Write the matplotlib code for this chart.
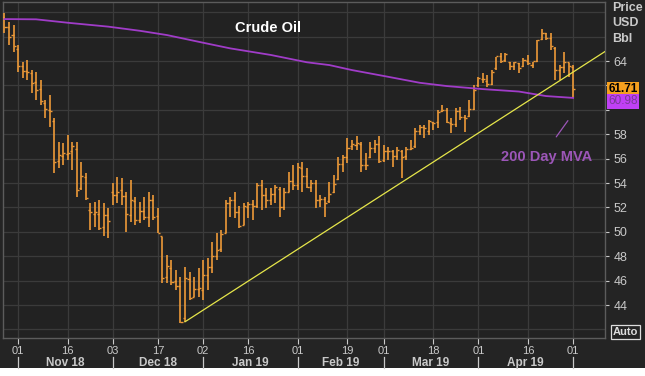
import numpy as np
import pandas as pd
import matplotlib
matplotlib.use("Agg")
import matplotlib.pyplot as plt
from matplotlib.lines import Line2D
from matplotlib.patches import Rectangle
import matplotlib.transforms as mtransforms

plt.rcParams['font.family'] = ['Liberation Sans', 'DejaVu Sans']

# ---------------- data ----------------
start_date = "2018-10-29"
end_date = "2019-05-01"
holidays = ["2018-11-22", "2018-12-25", "2019-01-01", "2019-01-21",
            "2019-02-18", "2019-04-19"]

highs = [67.96, 67.22, 66.95, 65.31, 63.95, 64.08, 63.26, 63.13, 62.44, 60.80,
         61.21, 59.30, 57.39, 57.25, 57.93, 57.39, 57.39, 55.75, 54.79, 52.33,
         52.47, 52.61, 52.33, 51.92, 53.97, 54.52, 54.38, 53.29, 54.25, 52.88,
         52.47, 52.88, 53.29, 53.02, 51.92, 49.60, 48.10, 47.69, 46.87, 46.32,
         47.14, 46.73, 46.32, 47.01, 47.69, 47.83, 49.19, 49.87, 50.15, 52.61,
         52.88, 53.29, 52.11, 52.33, 52.47, 52.61, 53.97, 54.25, 53.56, 53.56,
         53.84, 53.70, 53.56, 54.93, 55.48, 55.61, 55.75, 55.20, 54.25, 54.25,
         53.02, 52.88, 54.05, 54.66, 56.16, 56.30, 57.66, 57.52, 57.85, 57.39,
         56.43, 57.39, 57.52, 57.85, 57.11, 56.98, 56.70, 56.98, 56.70, 56.98,
         57.52, 58.48, 58.75, 58.75, 59.16, 59.03, 59.98, 60.39, 60.12, 59.30,
         60.12, 60.26, 59.57, 60.80, 62.03, 62.72, 62.99, 62.85, 63.26, 64.36,
         64.63, 64.63, 63.95, 63.95, 63.81, 64.22, 64.49, 63.95, 65.72, 66.60,
         66.32, 66.27, 65.17, 63.67, 64.77, 63.81, 63.67]
lows = [66.27, 65.31, 64.77, 63.13, 62.58, 62.44, 61.35, 60.80, 60.39, 59.30,
        58.62, 54.79, 55.20, 55.48, 55.89, 55.07, 52.88, 53.43, 52.61, 50.15,
        50.42, 50.15, 49.70, 49.50, 52.20, 52.33, 52.20, 50.01, 50.83, 50.56,
        50.69, 50.97, 50.42, 50.97, 49.87, 45.78, 45.78, 45.64, 45.23, 42.50,
        42.63, 44.41, 44.68, 44.68, 44.41, 45.23, 46.60, 47.69, 48.37, 49.90,
        51.24, 51.10, 50.28, 50.56, 51.10, 50.97, 51.92, 51.79, 51.92, 52.20,
        52.33, 51.24, 51.79, 53.29, 53.43, 53.43, 53.29, 53.56, 53.29, 51.92,
        52.06, 51.24, 52.40, 53.15, 54.25, 54.93, 55.61, 56.70, 56.70, 54.93,
        55.07, 56.02, 56.43, 55.61, 55.75, 55.89, 55.34, 55.89, 54.38, 55.89,
        56.70, 56.84, 57.93, 57.66, 57.93, 58.34, 58.48, 59.85, 58.89, 58.07,
        58.62, 59.16, 58.21, 59.44, 59.98, 61.90, 62.17, 61.90, 62.03, 63.26,
        63.81, 63.95, 63.26, 63.26, 62.99, 63.54, 63.67, 63.40, 63.95, 65.72,
        65.72, 64.90, 62.44, 62.44, 62.99, 62.72, 60.94]
opens = [67.6, 66.8, 66.1, 65.0, 63.6, 63.2, 63.0, 62.3, 61.7, 60.6,
         60.0, 59.1, 55.8, 56.2, 56.4, 56.6, 56.8, 53.6, 54.5, 51.8,
         51.5, 51.5, 50.4, 51.4, 53.3, 53.0, 53.4, 52.9, 51.4, 52.5,
         51.0, 51.7, 51.2, 52.6, 51.3, 49.7, 46.3, 47.0, 46.0, 45.6,
         42.9, 46.1, 44.7, 45.3, 45.2, 46.5, 47.1, 48.0, 48.6, 49.9,
         52.4, 52.6, 51.6, 50.6, 52.0, 52.3, 52.1, 53.8, 53.0, 52.6,
         53.1, 53.5, 52.0, 53.3, 54.2, 53.8, 55.2, 54.6, 53.7, 54.0,
         52.6, 52.7, 52.5, 53.3, 54.3, 55.6, 56.1, 57.0, 57.1, 57.2,
         55.5, 56.1, 56.9, 57.2, 55.9, 56.6, 56.6, 56.2, 56.6, 56.2,
         56.8, 57.0, 58.3, 58.6, 58.3, 59.0, 59.0, 59.9, 60.0, 58.9,
         58.8, 59.9, 59.4, 59.5, 60.1, 62.0, 62.5, 62.4, 62.1, 63.4,
         64.4, 64.1, 63.9, 63.6, 63.8, 63.6, 64.0, 63.7, 64.0, 65.8,
         66.3, 65.9, 65.1, 63.3, 63.5, 63.9, 63.5]
closes = [66.8, 66.0, 65.2, 63.6, 63.2, 63.1, 62.2, 61.6, 60.7, 60.1,
          59.9, 55.7, 56.3, 56.5, 56.5, 57.0, 53.4, 54.6, 52.8, 51.6,
          51.6, 50.3, 51.4, 50.9, 53.0, 53.3, 52.9, 51.5, 52.6, 51.0,
          51.7, 51.2, 52.6, 51.2, 49.9, 46.2, 47.2, 45.9, 45.6, 42.6,
          46.2, 44.6, 45.3, 45.4, 46.5, 47.1, 48.0, 48.5, 49.8, 52.4,
          52.6, 51.6, 50.5, 52.1, 52.3, 52.1, 53.8, 53.0, 52.6, 53.1,
          53.7, 52.0, 53.3, 54.2, 53.8, 55.3, 54.6, 53.7, 54.0, 52.6,
          52.7, 52.4, 53.1, 53.9, 55.6, 56.1, 56.9, 57.2, 57.3, 55.5,
          55.5, 56.9, 57.2, 55.8, 56.6, 56.6, 56.2, 56.7, 56.1, 56.8,
          56.9, 58.3, 58.6, 58.5, 59.1, 58.9, 59.8, 60.0, 59.0, 58.8,
          59.9, 59.4, 59.3, 60.1, 61.6, 62.6, 62.5, 62.1, 63.1, 64.4,
          64.0, 64.6, 63.6, 63.9, 63.4, 64.1, 63.8, 64.0, 65.7, 66.3,
          65.9, 65.2, 63.3, 63.5, 63.9, 63.6, 61.71]

ma_dates = ["2018-10-29", "2018-11-07", "2018-11-16", "2018-11-30", "2018-12-11",
            "2018-12-19", "2018-12-31", "2019-01-10", "2019-01-24", "2019-02-05",
            "2019-02-12", "2019-02-20", "2019-03-04", "2019-03-13", "2019-03-21",
            "2019-04-02", "2019-04-12", "2019-04-23", "2019-05-01"]
ma_values = [67.44, 67.42, 67.14, 66.82, 66.48, 66.13, 65.58, 65.04, 64.50, 63.90,
             63.67, 63.26, 62.71, 62.22, 61.95, 61.70, 61.50, 61.13, 60.98]

trend_dates = ["2018-12-26", "2019-05-01"]
trend_values = [42.63, 63.10]

tick_dates = ["2018-11-01", "2018-11-16", "2018-12-03", "2018-12-17", "2019-01-02",
              "2019-01-16", "2019-02-01", "2019-02-19", "2019-03-01", "2019-03-18",
              "2019-04-01", "2019-04-16", "2019-05-01"]
tick_labels = ["01", "16", "03", "17", "02", "16", "01", "19", "01", "18", "01", "16", "01"]
month_starts = ["2018-11-01", "2018-12-03", "2019-01-02", "2019-02-01",
                "2019-03-01", "2019-04-01", "2019-05-01"]
month_labels = ["Nov 18", "Dec 18", "Jan 19", "Feb 19", "Mar 19", "Apr 19"]
price_ticks = [44, 46, 48, 50, 52, 54, 56, 58, 60, 62, 64]
hidden_price_labels = [60, 62]   # covered by the last-value boxes
grid_levels = [42, 44, 46, 48, 50, 52, 54, 56, 58, 60, 62, 64, 66, 68]
last_price = 61.71
last_ma = 60.98

# ---------------- calendar ----------------
dates = pd.bdate_range(start_date, end_date)
dates = dates[~dates.isin(pd.to_datetime(holidays))]
pos = {d.strftime("%Y-%m-%d"): i for i, d in enumerate(dates)}
x = np.arange(len(dates))

# ---------------- style ----------------
W, H = 645, 376
BG = "#242424"
AXBG = "#222222"
GRID = "#3b3b3b"
FRAME = "#5c5c5c"
ORANGE = "#EE9A38"
PURPLE = "#A03CC8"
YELLOW = "#E6E64A"
TXT = "#c9c9c9"

fig = plt.figure(figsize=(W / 100, H / 100), dpi=100, facecolor=BG)
ax = fig.add_axes([3 / W, 1 - 338 / H, 602 / W, 336 / H], facecolor=AXBG)

ax.set_xlim(-0.33, 133.06)
ax.set_ylim(41.3, 68.84)

for g in grid_levels:
    ax.axhline(g, color=GRID, lw=0.9, zorder=0)
tick_x = [pos[d] for d in tick_dates]
for tx in tick_x:
    ax.axvline(tx, color=GRID, lw=0.9, zorder=0)

# OHLC bars
ax.vlines(x, lows, highs, colors=ORANGE, lw=1.2, zorder=3)
ax.hlines(opens, x - 0.45, x, colors=ORANGE, lw=1.0, zorder=3)
ax.hlines(closes, x, x + 0.45, colors=ORANGE, lw=1.0, zorder=3)

# 200-day moving average
ma_x = [pos[d] for d in ma_dates]
ax.plot(ma_x, ma_values, color=PURPLE, lw=1.3, zorder=4)

# trend line, extended to the right edge
tx0, tx1 = pos[trend_dates[0]], pos[trend_dates[1]]
slope = (trend_values[1] - trend_values[0]) / (tx1 - tx0)
xr = ax.get_xlim()[1]
ax.plot([tx0, xr], [trend_values[0], trend_values[0] + slope * (xr - tx0)],
        color=YELLOW, lw=0.9, zorder=5)

for s in ax.spines.values():
    s.set_color(FRAME)
    s.set_linewidth(1.0)

# axes ticks
ax.yaxis.tick_right()
ax.set_yticks(price_ticks)
ax.set_yticklabels(["" if v in hidden_price_labels else str(v) for v in price_ticks])
ax.tick_params(axis="y", colors=TXT, length=3, width=0.8, pad=3, labelsize=9)
ax.set_xticks(tick_x)
ax.set_xticklabels(tick_labels)
ax.tick_params(axis="x", colors=TXT, length=4, width=0.8, pad=1.5, labelsize=8)
for lab in ax.get_xticklabels() + ax.get_yticklabels():
    lab.set_color(TXT)

# month labels and separators
trans = mtransforms.blended_transform_factory(ax.transData, fig.transFigure)
ms_x = [pos[d] for d in month_starts]
for a, b, lab in zip(ms_x[:-1], ms_x[1:], month_labels):
    fig.text((a + b) / 2, 1 - 363 / H, lab, transform=trans, ha="center", va="center",
             color=TXT, fontsize=8.5, fontweight="bold")
for m in ms_x:
    fig.add_artist(Line2D([m, m], [1 - 357 / H, 1 - 368 / H], transform=trans,
                          color=TXT, lw=0.9))

# white strip at bottom
fig.add_artist(Rectangle((0, 0), 1, 8.5 / H, transform=fig.transFigure,
                         facecolor="white", edgecolor="none"))

# titles / labels
ax.text((268 - 3) / 602, 1 - 26 / 336, "Crude Oil", transform=ax.transAxes,
        ha="center", va="center", color="white", fontsize=10.5, fontweight="bold")
ax.text((547 - 3) / 602, 1 - 155 / 336, "200 Day MVA", transform=ax.transAxes,
        ha="center", va="center", color="#9C56B8", fontsize=10.5, fontweight="bold")
ax.annotate("", xy=(pos["2019-04-30"] + 0.2, 59.3), xytext=(pos["2019-04-24"] + 0.9, 57.6),
            arrowprops=dict(arrowstyle="-", color="#9C56B8", lw=0.9))

for yy, t in [(8, "Price"), (23, "USD"), (39, "Bbl")]:
    fig.text(612 / W, 1 - yy / H, t, ha="left", va="center", color=TXT,
             fontsize=9, fontweight="bold")

# last price labels
ax.annotate(f"{last_price:.2f}", xy=(1.0, last_price), xycoords=("axes fraction", "data"),
            xytext=(2.5, 0), textcoords="offset points", ha="left", va="center",
            fontsize=8.5, fontweight="bold", color="black", zorder=10,
            bbox=dict(boxstyle="square,pad=0.12", facecolor="#F5A01E", edgecolor="none"),
            annotation_clip=False)
ax.annotate(f"{last_ma:.2f}", xy=(1.0, last_ma), xycoords=("axes fraction", "data"),
            xytext=(2.5, -2.5), textcoords="offset points", ha="left", va="center",
            fontsize=8.5, color="#7a3a96", zorder=10,
            bbox=dict(boxstyle="square,pad=0.12", facecolor="#C040F5", edgecolor="none"),
            annotation_clip=False)

fig.text(613 / W, 1 - 332 / H, "Auto", ha="left", va="center", color="#dddddd",
         fontsize=8, fontweight="bold",
         bbox=dict(boxstyle="square,pad=0.15", facecolor="none", edgecolor="#dddddd", lw=0.9))

fig.savefig("out.png", dpi=100, facecolor=BG)
